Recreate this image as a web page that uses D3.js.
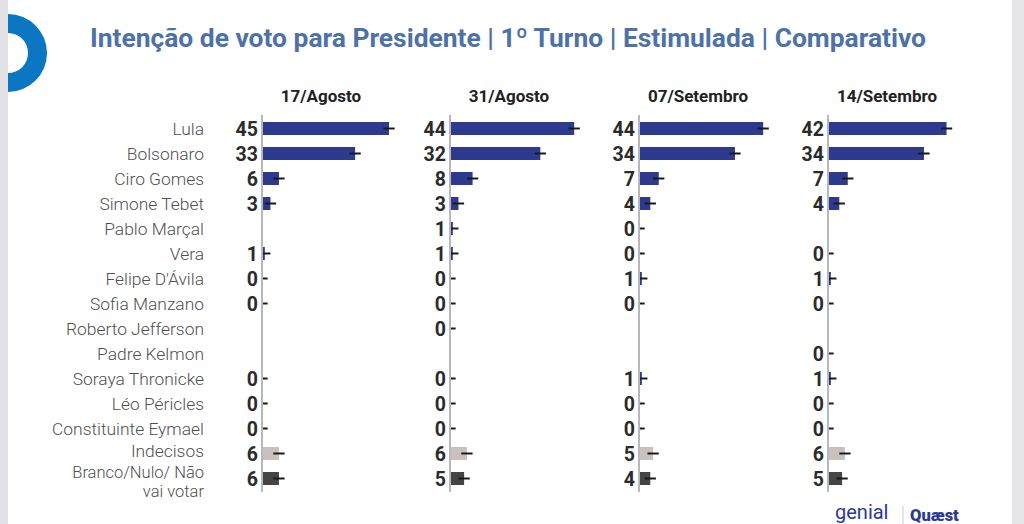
<!DOCTYPE html>
<html><head><meta charset="utf-8">
<script src="https://cdn.jsdelivr.net/npm/d3@7"></script>
<style>
html,body{margin:0;padding:0;background:#fff;}
svg{display:block;font-family:Roboto,"Noto Sans",sans-serif;}
</style></head>
<body><svg id="c" width="1024" height="524"></svg>
<script>
const title = "Intenção de voto para Presidente | 1º Turno | Estimulada | Comparativo";
const categories = ["Lula","Bolsonaro","Ciro Gomes","Simone Tebet","Pablo Marçal","Vera","Felipe D'Ávila","Sofia Manzano","Roberto Jefferson","Padre Kelmon","Soraya Thronicke","Léo Péricles","Constituinte Eymael","Indecisos","Branco/Nulo/ Não vai votar"];
const dates = ["17/Agosto","31/Agosto","07/Setembro","14/Setembro"];
const ago17 = [45,33,6,3,null,1,0,0,null,null,0,0,0,6,6];
const ago31 = [44,32,8,3,1,1,0,0,0,null,0,0,0,6,5];
const set07 = [44,34,7,4,0,0,1,0,null,null,1,0,0,5,4];
const set14 = [42,34,7,4,null,0,1,0,null,0,1,0,0,6,5];
const series = [ago17, ago31, set07, set14];
const marginOfError = 2;

const svg = d3.select("#c");
// side strips
svg.append("rect").attr("x",0).attr("y",0).attr("width",8).attr("height",524).attr("fill","#e2e2e4");
svg.append("rect").attr("x",1012).attr("y",0).attr("width",12).attr("height",524).attr("fill","#e6e6e8");
// logo ring
const arc = d3.arc().innerRadius(20).outerRadius(39).startAngle(0).endAngle(Math.PI);
svg.append("path").attr("d",arc()).attr("transform","translate(8,53)").attr("fill","#0b77c3");

svg.append("text").attr("x",508).attr("y",47).attr("text-anchor","middle")
  .attr("font-size",26.4).attr("font-weight",700).attr("fill","#4d72a8").text(title);

const y = d3.scaleBand().domain(categories).range([116,491]).paddingInner(0.48).paddingOuter(0.24);
const axisX = [262,450,639,828];
const x = d3.scaleLinear().domain([0,45]).range([0,127]);

// category labels
const lab = svg.append("g").attr("font-size",17.4).attr("font-weight",300).attr("fill","#4f4f4f").attr("text-anchor","end");
categories.forEach((c,i)=>{
  const cy = y(c)+y.bandwidth()/2;
  if(i===categories.length-1){
    const t = lab.append("text").attr("x",204).attr("y",cy-1).attr("font-size",16.5);
    t.append("tspan").attr("x",204).text("Branco/Nulo/ Não");
    t.append("tspan").attr("x",204).attr("dy",19.5).text("vai votar");
  } else if(i===categories.length-2){
    lab.append("text").attr("x",204).attr("y",cy+3.5).text(c);
  } else {
    lab.append("text").attr("x",204).attr("y",cy).attr("dy","0.35em").text(c);
  }
});

function colorFor(i){
  if(i===13) return "#c9c1bd";
  if(i===14) return "#454545";
  return "#2e3a8e";
}

series.forEach((vals,p)=>{
  const ax = axisX[p];
  const g = svg.append("g").attr("transform",`translate(${ax},0)`);
  g.append("text").attr("x",59).attr("y",102).attr("text-anchor","middle").attr("font-size",17).attr("font-weight",700).attr("fill","#222").text(dates[p]);
  vals.forEach((v,i)=>{
    if(v===null) return;
    const c = categories[i];
    const cy = y(c)+y.bandwidth()/2;
    g.append("rect").attr("x",0).attr("y",y(c)).attr("width",x(v)).attr("height",y.bandwidth()).attr("fill",colorFor(i));
    g.append("line").attr("x1",x(Math.max(0,v-marginOfError))).attr("x2",x(v+marginOfError))
      .attr("y1",cy).attr("y2",cy).attr("stroke","#1a1a1a").attr("stroke-width",2);
    g.append("text").attr("x",-4).attr("y",cy).attr("dy","0.36em").attr("text-anchor","end")
      .attr("font-size",19.5).attr("font-weight",700).attr("fill","#2b2b2b").text(v);
  });
  g.append("line").attr("x1",0).attr("x2",0).attr("y1",115).attr("y2",492).attr("stroke","#b8b8bc").attr("stroke-width",2);
});

// footer logos
svg.append("text").attr("x",835).attr("y",519).attr("font-size",20).attr("font-weight",400).attr("fill","#2a3a9a").text("genial");
svg.append("line").attr("x1",903).attr("x2",903).attr("y1",506).attr("y2",524).attr("stroke","#c5cce0").attr("stroke-width",1);
svg.append("text").attr("x",910).attr("y",521).attr("font-size",16.5).attr("font-weight",900).attr("fill","#2a3a9a").text("Quæst");
</script></body></html>
